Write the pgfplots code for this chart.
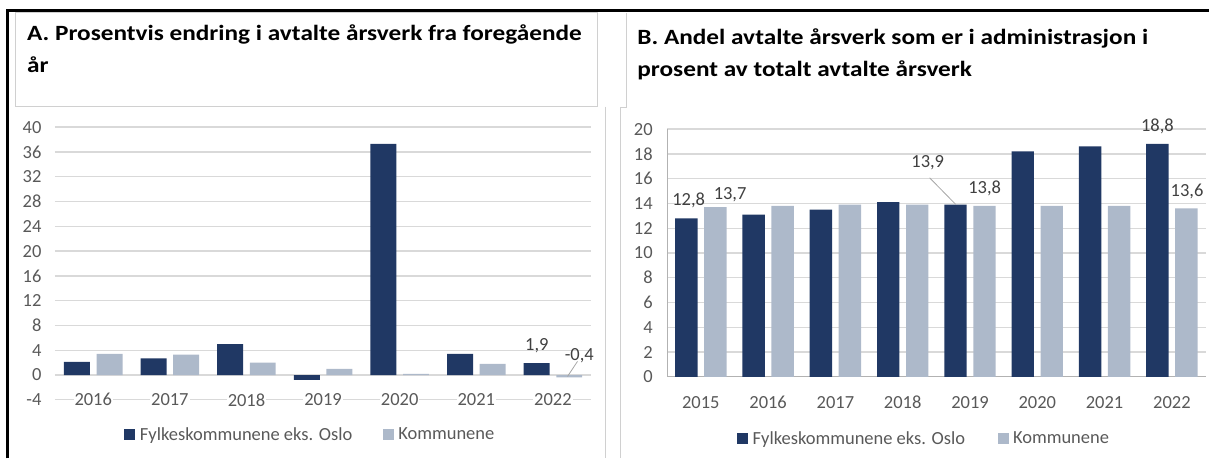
\documentclass[border=0pt]{standalone}
\usepackage{fontspec}
\setmainfont{Carlito}
\newfontfamily\titlefont[FakeStretch=1.16]{Carlito}
\usepackage{pgfplots}
\pgfplotsset{compat=1.18}
\definecolor{dark}{HTML}{203864}
\definecolor{light}{HTML}{ADB9CA}
\definecolor{gridc}{HTML}{D9D9D9}
\definecolor{txt}{HTML}{595959}
\definecolor{lab}{HTML}{404040}
\definecolor{frame}{HTML}{D0D0D0}
\newcommand\fs{\fontsize{18.5bp}{22bp}\selectfont}
\pgfplotsset{
  sq legend/.style={legend image code/.code={\fill[##1, draw=none] (0bp,-5.5bp) rectangle (11bp,5.5bp);}},
  every axis/.append style={
    scale only axis, clip=false,
    /pgf/number format/assume math mode=true,
    tick label style={font=\fs, text=txt},
    major tick length=0pt,
    grid style={gridc, line width=1.3bp},
    legend cell align=left,
  },
}
\begin{document}
\begin{tikzpicture}[x=1bp,y=1bp]
\path (0,0) rectangle (1210,459);
% frames
\draw[frame, line width=1bp] (15.7,446) rectangle (598.3,352.3);
\draw[frame, line width=1bp] (606.7,352.3) -- (606.7,0);
\draw[frame, line width=1bp] (627.3,446) -- (627.3,351.5) -- (621.7,351.5) -- (621.7,0);
\draw[black, line width=3bp] (8,0) -- (8,448) -- (1210,448);
% titles
\node[anchor=base west, inner sep=0, font=\fontsize{21.8bp}{25bp}\titlefont\bfseries] at (27,418) {A. Prosentvis endring i avtalte årsverk fra foregående};
\node[anchor=base west, inner sep=0, font=\fontsize{21.8bp}{25bp}\titlefont\bfseries] at (27,386) {år};
\node[anchor=base west, inner sep=0, font=\fontsize{21.8bp}{25bp}\titlefont\bfseries] at (638,414) {B. Andel avtalte årsverk som er i administrasjon i};
\node[anchor=base west, inner sep=0, font=\fontsize{21.8bp}{25bp}\titlefont\bfseries] at (638,382) {prosent av totalt avtalte årsverk};

% Panel A
\begin{axis}[
  at={(55bp,58.7bp)}, anchor=south west, width=537bp, height=273bp,
  ybar,
  xmin=-0.5, xmax=6.5, ymin=-4, ymax=40,
  ytick={-4,0,4,8,12,16,20,24,28,32,36,40},
  xtick={0,1,2,3,4,5,6}, xticklabels={2016,2017,2018,2019,2020,2021,2022},
  axis line style={draw=none},
  ymajorgrids,
  xticklabel style={anchor=center, fill=white, inner xsep=1bp, inner ysep=0bp},
  yticklabel style={anchor=east, xshift=-10bp},
  legend style={at={(0.4786,-0.127)}, anchor=center, draw=none, fill=none,
    legend columns=2, font=\fs, text=txt, nodes={inner xsep=4.5bp},
    /tikz/every even column/.append style={column sep=26bp}},
]
\addplot[fill=dark, draw=none, bar width=26bp, bar shift=-16.3bp, sq legend] coordinates
  {(0,2.1) (1,2.7) (2,5.0) (3,-0.8) (4,37.3) (5,3.4) (6,1.9)};
\addplot[fill=light, draw=none, bar width=26bp, bar shift=16.3bp, sq legend] coordinates
  {(0,3.4) (1,3.3) (2,2.0) (3,1.0) (4,0.2) (5,1.8) (6,-0.4)};
\legend{Fylkeskommunene eks. Oslo, Kommunene}
\node[text=lab, font=\fs] at (axis cs:5.79,4.7) {1,9};
\node[text=lab, font=\fs] at (axis cs:6.344,3.16) {-0,4};
\draw[gray!70, line width=0.8bp] (axis cs:6.19,-0.23) -- (axis cs:6.32,2.2);
\end{axis}

% Panel B
\begin{axis}[
  at={(668bp,81.7bp)}, anchor=south west, width=539bp, height=248bp,
  ybar,
  xmin=-0.5, xmax=7.5, ymin=0, ymax=20,
  ytick={0,2,...,20},
  xtick={0,...,7}, xticklabels={2015,2016,2017,2018,2019,2020,2021,2022},
  axis x line*=bottom, axis y line*=left,
  axis line style={draw=gray!60, line width=1.3bp},
  ymajorgrids,
  xticklabel style={anchor=center, yshift=-25.4bp},
  yticklabel style={anchor=east, xshift=-11bp},
  legend style={at={(0.4796,-0.25)}, anchor=center, draw=none, fill=none,
    legend columns=2, font=\fs, text=txt, nodes={inner xsep=4.5bp},
    /tikz/every even column/.append style={column sep=28bp}},
]
\addplot[fill=dark, draw=none, bar width=22.4bp, bar shift=-14.5bp, sq legend] coordinates
  {(0,12.8) (1,13.1) (2,13.5) (3,14.1) (4,13.9) (5,18.2) (6,18.6) (7,18.8)};
\addplot[fill=light, draw=none, bar width=22.4bp, bar shift=14.5bp, sq legend] coordinates
  {(0,13.7) (1,13.8) (2,13.9) (3,13.9) (4,13.8) (5,13.8) (6,13.8) (7,13.6)};
\legend{Fylkeskommunene eks. Oslo, Kommunene}
\node[text=lab, font=\fs] at (axis cs:-0.181,14.22) {12,8};
\node[text=lab, font=\fs] at (axis cs:0.435,14.73) {13,7};
\node[text=lab, font=\fs] at (axis cs:3.372,17.26) {13,9};
\draw[gray!70, line width=0.8bp] (axis cs:3.40,16.07) -- (axis cs:3.788,13.92);
\node[text=lab, font=\fs] at (axis cs:4.218,15.24) {13,8};
\node[text=lab, font=\fs] at (axis cs:6.785,20.21) {18,8};
\node[text=lab, font=\fs] at (axis cs:7.225,14.97) {13,6};
\end{axis}
\end{tikzpicture}
\end{document}
